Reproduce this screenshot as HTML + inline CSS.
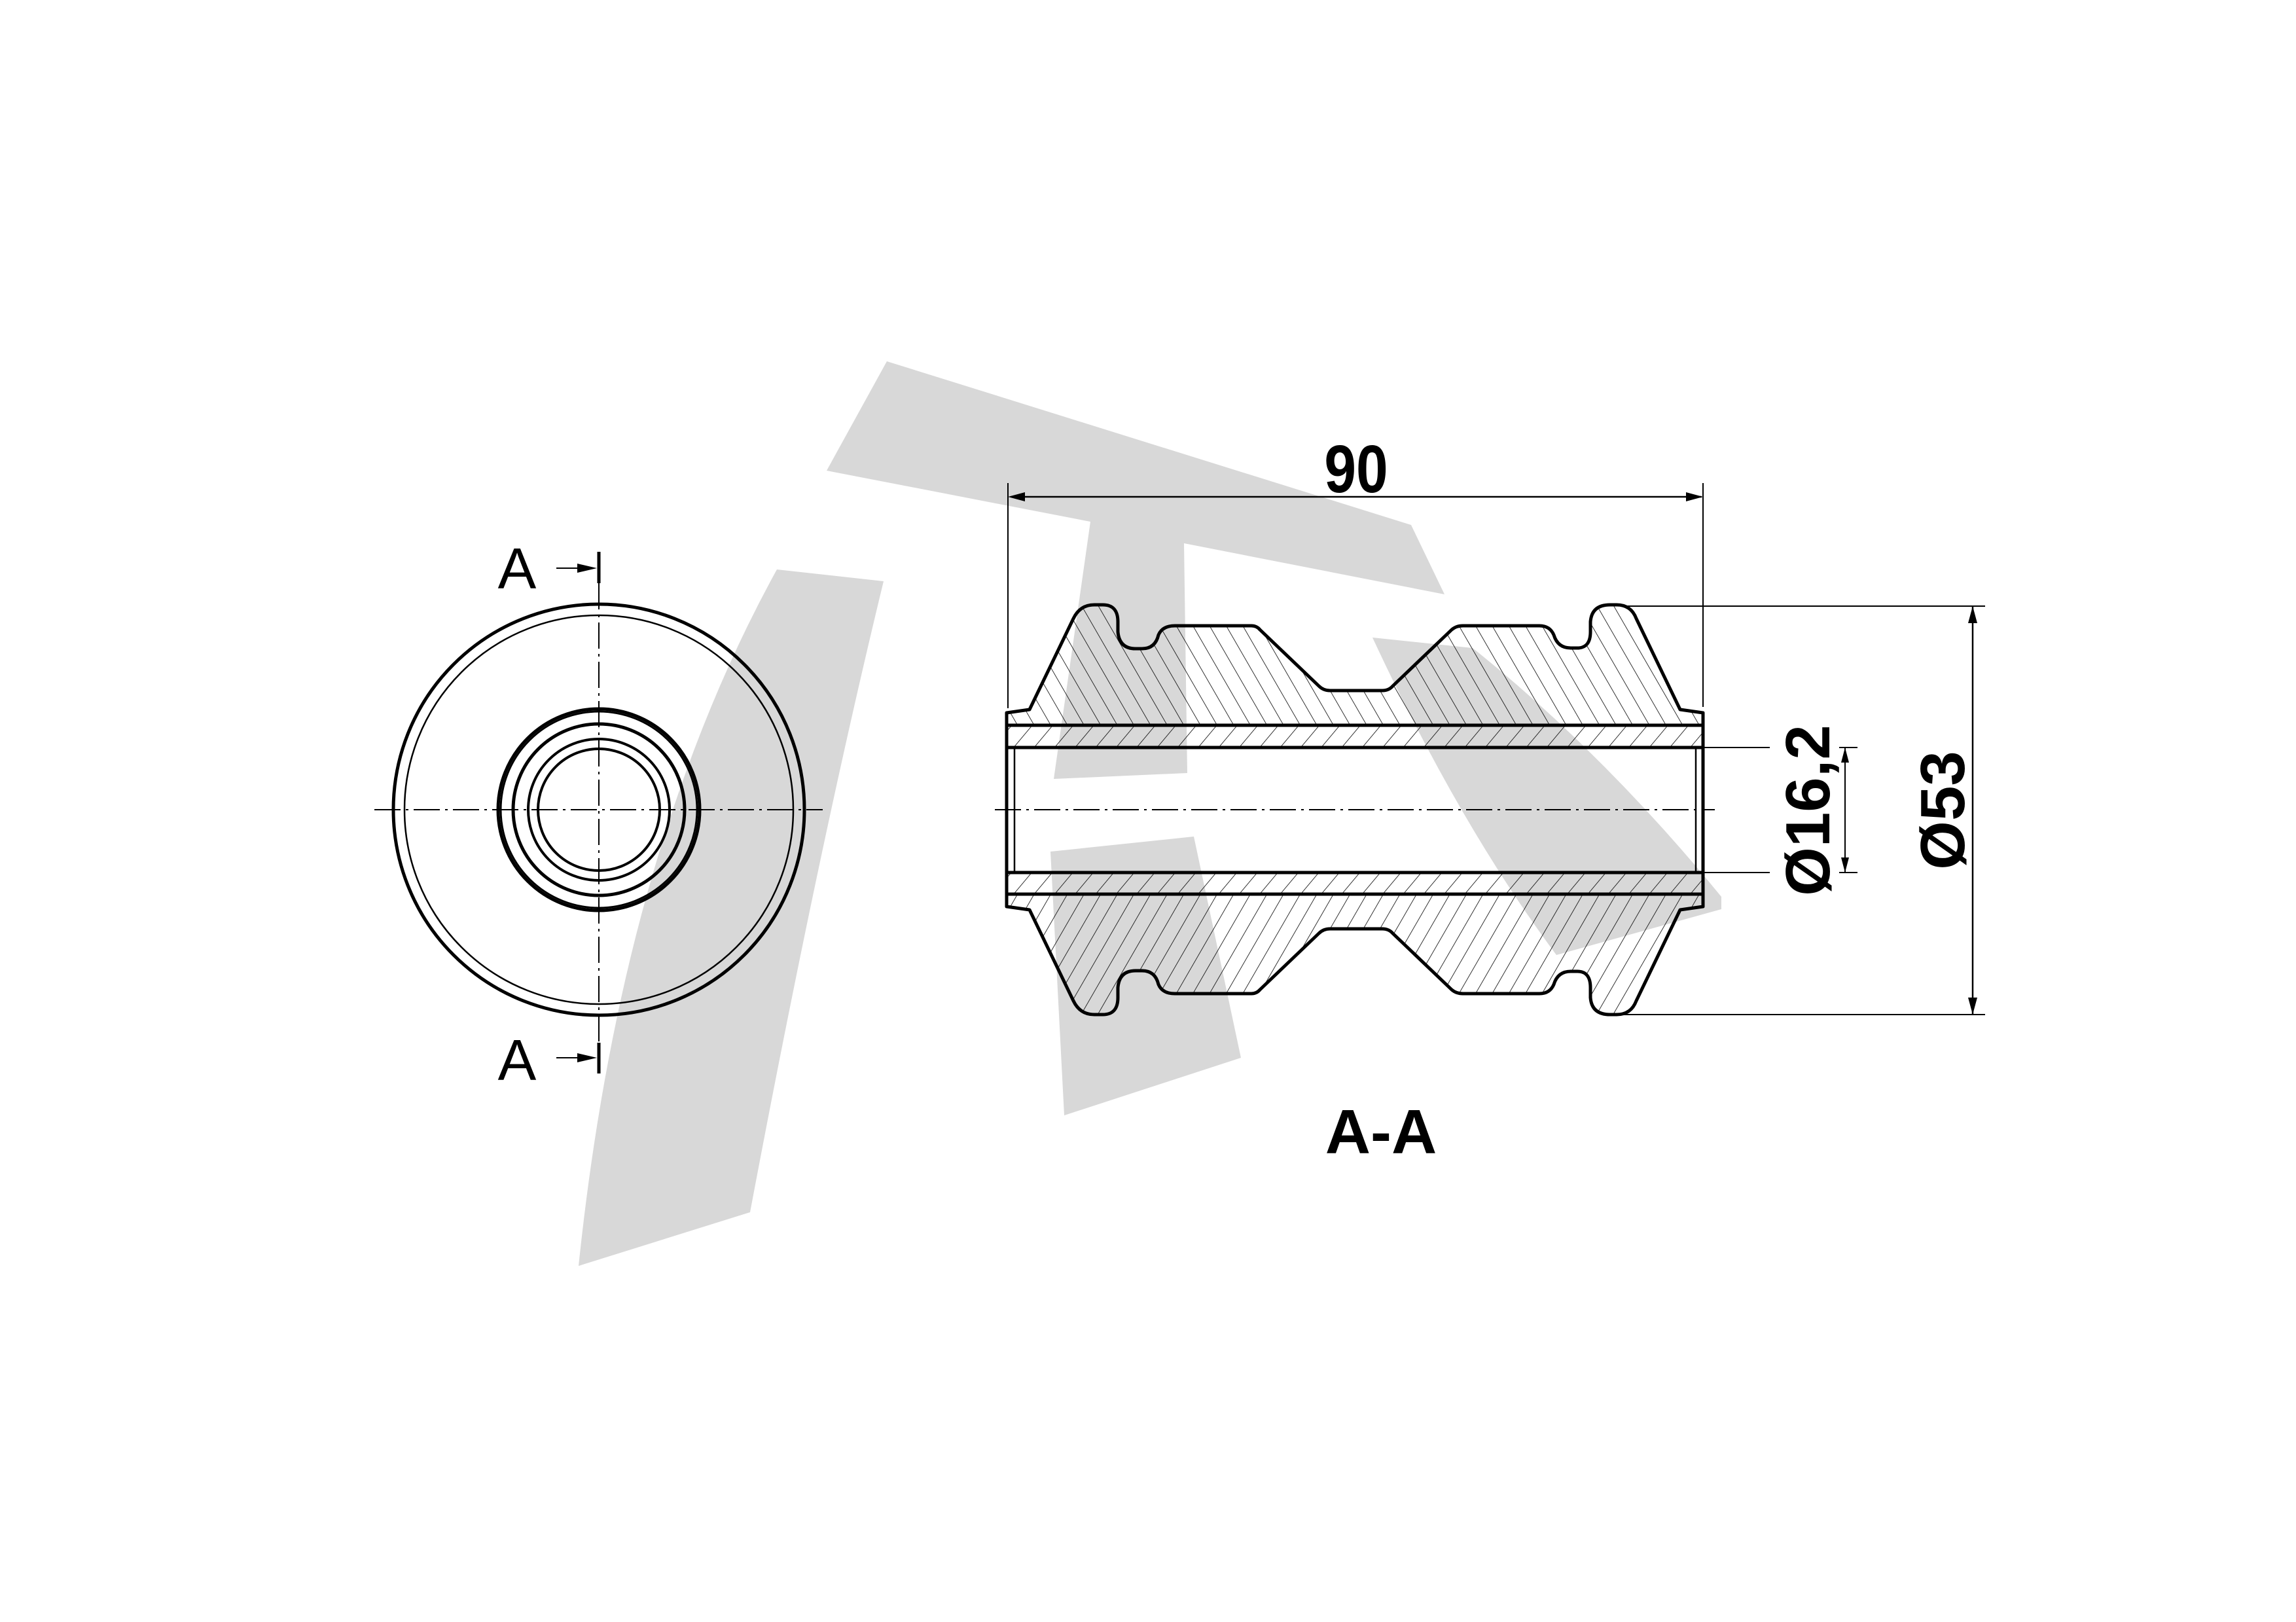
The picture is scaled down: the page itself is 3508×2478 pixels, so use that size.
<!DOCTYPE html>
<html><head><meta charset="utf-8"><style>
html,body{margin:0;padding:0;background:#fff;}
svg{display:block;}
text{font-family:"Liberation Sans",sans-serif;}
</style></head><body>
<svg width="3508" height="2478" viewBox="0 0 3508 2478" xmlns="http://www.w3.org/2000/svg">
<defs>
<pattern id="hb" patternUnits="userSpaceOnUse" width="22" height="22" patternTransform="rotate(-30)">
<line x1="0" y1="0" x2="0" y2="22" stroke="#000" stroke-width="1.6"/>
</pattern>
<pattern id="hf" patternUnits="userSpaceOnUse" width="24" height="24" patternTransform="rotate(40)">
<line x1="0" y1="0" x2="0" y2="24" stroke="#000" stroke-width="1.6"/>
</pattern>
<g id="rub">
<path d="M1538,1089 L1573,1084 L1640,945 Q1650,924 1672,924 L1685,924 Q1708,924 1708,950 L1708,965 Q1710,991 1735,991 L1745,991 Q1765,991 1770,970 Q1776,956 1795,956 L1912,956 Q1920,956 1925,962 L2015,1048 Q2022,1055 2032,1055 L2112,1055 Q2122,1055 2128,1048 L2218,962 Q2225,956 2235,956 L2352,956 Q2368,956 2374,970 Q2380,990 2400,990 L2410,990 Q2430,990 2430,965 L2430,950 Q2432,924 2460,924 L2470,924 Q2492,924 2500,945 L2567,1084 L2602,1089 L2602,1108 L1538,1108 Z"/>
</g>
</defs>
<rect width="3508" height="2478" fill="#fff"/>
<g fill="#d8d8d8">
<path d="M1187,870 L1350,888 Q1250,1300 1146,1852 L884,1934 Q950,1300 1187,870 Z"/>
<path d="M1355,552 L2156,802 L2207,908 L1809,830 L1814,1181 L1610,1190 L1666,797 L1263,719 Z"/>
<path d="M1605,1301 L1824,1278 L1896,1616 L1626,1704 Z"/>
<path d="M2097,974 L2250,990 Q2450,1150 2630,1370 L2630,1389 L2378,1459 Q2230,1260 2097,974 Z"/>
</g>
<g fill="none" stroke="#000">
<circle cx="915" cy="1237" r="314" stroke-width="5"/>
<circle cx="915" cy="1237" r="297" stroke-width="2.5"/>
<circle cx="915" cy="1237" r="154" stroke-width="5"/>
<circle cx="915" cy="1237" r="150" stroke-width="3"/>
<circle cx="915" cy="1237" r="131" stroke-width="5"/>
<circle cx="915" cy="1237" r="108" stroke-width="4"/>
<circle cx="915" cy="1237" r="93" stroke-width="4"/>
<line x1="572" y1="1237" x2="1257" y2="1237" stroke-width="2" stroke-dasharray="40,8,4,8"/>
<line x1="915" y1="891" x2="915" y2="1593" stroke-width="2" stroke-dasharray="40,8,4,8"/>
<line x1="915" y1="843" x2="915" y2="891" stroke-width="5"/>
<line x1="915" y1="1593" x2="915" y2="1640" stroke-width="5"/>
<line x1="850" y1="868" x2="890" y2="868" stroke-width="2"/>
<line x1="850" y1="1616" x2="890" y2="1616" stroke-width="2"/>
</g>
<path d="M882,861 L912,868 L882,875 Z M882,1609 L912,1616 L882,1623 Z" fill="#000"/>
<text x="790" y="899" font-size="88" text-anchor="middle">A</text>
<text x="790" y="1650" font-size="88" text-anchor="middle">A</text>
<g>
<use href="#rub" fill="url(#hb)" stroke="#000" stroke-width="5" stroke-linejoin="round"/>
<use href="#rub" fill="url(#hb)" stroke="#000" stroke-width="5" stroke-linejoin="round" transform="translate(0,2474) scale(1,-1)"/>
<rect x="1538" y="1108" width="1064" height="34" fill="url(#hf)" stroke="#000" stroke-width="5"/>
<rect x="1538" y="1333" width="1064" height="33" fill="url(#hf)" stroke="#000" stroke-width="5"/>
<g fill="none" stroke="#000">
<line x1="1538" y1="1089" x2="1538" y2="1385" stroke-width="5"/>
<line x1="2602" y1="1089" x2="2602" y2="1385" stroke-width="5"/>
<line x1="1550" y1="1142" x2="1550" y2="1333" stroke-width="2.5"/>
<line x1="2591" y1="1142" x2="2591" y2="1333" stroke-width="2.5"/>
<line x1="1520" y1="1237" x2="2620" y2="1237" stroke-width="2" stroke-dasharray="40,8,4,8"/>
<line x1="1540" y1="738" x2="1540" y2="1082" stroke-width="2"/>
<line x1="2602" y1="738" x2="2602" y2="1080" stroke-width="2"/>
<line x1="1545" y1="759" x2="2600" y2="759" stroke-width="2.5"/>
<line x1="2480" y1="926" x2="3033" y2="926" stroke-width="2"/>
<line x1="2480" y1="1550" x2="3033" y2="1550" stroke-width="2"/>
<line x1="3014" y1="926" x2="3014" y2="1550" stroke-width="2.5"/>
<line x1="2602" y1="1142" x2="2704" y2="1142" stroke-width="2"/>
<line x1="2602" y1="1333" x2="2704" y2="1333" stroke-width="2"/>
<line x1="2810" y1="1142" x2="2838" y2="1142" stroke-width="2"/>
<line x1="2810" y1="1333" x2="2838" y2="1333" stroke-width="2"/>
<line x1="2819" y1="1142" x2="2819" y2="1333" stroke-width="2"/>
</g>
<path d="M1540,759 L1566,752 L1566,766 Z M2602,759 L2576,752 L2576,766 Z M3014,926 L3007,952 L3021,952 Z M3014,1550 L3007,1524 L3021,1524 Z M2819,1142 L2813,1165 L2825,1165 Z M2819,1333 L2813,1310 L2825,1310 Z" fill="#000"/>
<text x="0" y="0" font-size="103" font-weight="bold" text-anchor="middle" transform="translate(2072,752) scale(0.85,1)">90</text>
<text x="0" y="0" font-size="96" font-weight="bold" text-anchor="middle" transform="translate(2795,1238) rotate(-90)">Ø16,2</text>
<text x="0" y="0" font-size="96" font-weight="bold" text-anchor="middle" transform="translate(3001,1238) rotate(-90)">Ø53</text>
<text x="2110" y="1762" font-size="96" font-weight="bold" text-anchor="middle">A-A</text>
</g>
</svg>
</body></html>
